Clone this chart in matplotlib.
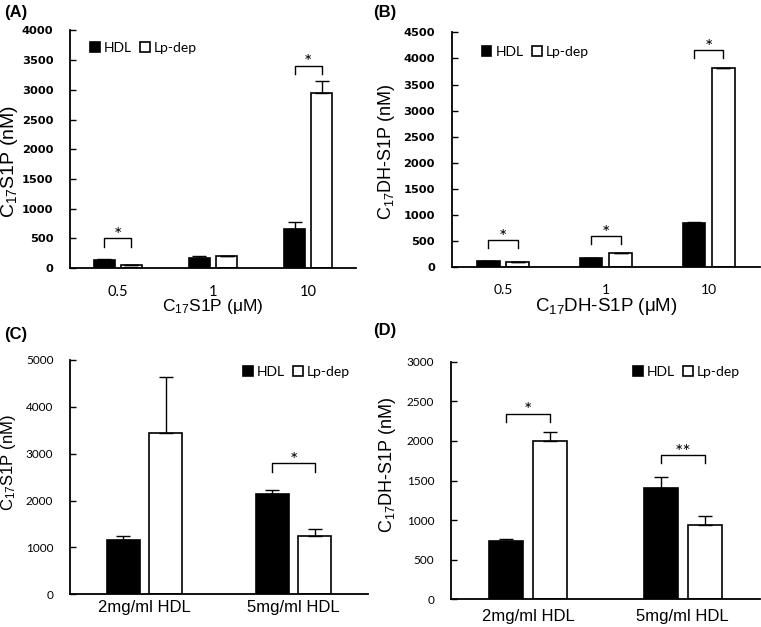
import matplotlib
matplotlib.use('Agg')
import matplotlib.pyplot as plt
from matplotlib.patches import Patch
import numpy as np

plt.rcParams['mathtext.default'] = 'regular'

# (A) C17S1P added, nM recovered
dose_labels = ['0.5', '1', '10']
a_hdl = [130, 175, 660]
a_hdl_err = [17, 35, 115]
a_lp = [50, 199, 2945]
a_lp_err = [3, 5, 205]
a_sig = [(0, '*', 500), (2, '*', 3410)]

# (B) C17DH-S1P added
b_hdl = [120, 177, 855]
b_hdl_err = [8, 10, 15]
b_lp = [95, 266, 3812]
b_lp_err = [3, 3, 10]
b_sig = [(0, '*', 525), (1, '*', 600), (2, '*', 4160)]

# (C) / (D) HDL concentration
hdl_labels = ['2mg/ml HDL', '5mg/ml HDL']
c_hdl = [1166, 2148]
c_hdl_err = [86, 78]
c_lp = [3449, 1252]
c_lp_err = [1195, 149]
c_sig = [(1, '*', 2795)]

d_hdl = [736, 1406]
d_hdl_err = [30, 143]
d_lp = [2003, 939]
d_lp_err = [114, 109]
d_sig = [(0, '*', 2344), (1, '**', 1822)]

W, H = 761, 627
fig = plt.figure(figsize=(W / 100, H / 100), dpi=100)


def px_rect(left, top, right, bottom):
    return [left / W, 1 - bottom / H, (right - left) / W, (bottom - top) / H]


def panel(rect, tag, tag_xy, cats, hdl, hdl_err, lp, lp_err, sig, ymax, ystep,
          ylab, ylab_size, ylab_pos, xlab, xlab_size, xlab_y, leg_pos,
          ytick_font, ytick_size, ytick_weight, xtick_font, xtick_size, xtick_pad):
    ax = fig.add_axes(rect)
    x = np.arange(len(cats))
    w, off = 0.22, 0.143
    ax.bar(x - off, hdl, w, color='black', edgecolor='black', linewidth=1.2)
    ax.bar(x + off, lp, w, color='white', edgecolor='black', linewidth=1.2)
    ax.errorbar(x - off, hdl, yerr=[np.zeros(len(hdl)), hdl_err], fmt='none',
                ecolor='black', elinewidth=1, capsize=5, capthick=1)
    ax.errorbar(x + off, lp, yerr=[np.zeros(len(lp)), lp_err], fmt='none',
                ecolor='black', elinewidth=1, capsize=5, capthick=1)

    # significance brackets
    leg = 0.035 * ymax
    for i, s, yb in sig:
        ax.plot([i - off, i - off, i + off, i + off], [yb - leg, yb, yb, yb - leg],
                color='black', lw=1)
        ax.annotate(s, (i, yb), xytext=(0, -2), textcoords='offset points',
                    ha='center', va='baseline', family='Lato', fontsize=14)

    ax.set_xlim(-0.5, len(cats) - 0.5)
    ax.set_ylim(0, ymax)
    ax.set_yticks(np.arange(0, ymax + 1, ystep))
    ax.set_xticks(x)
    ax.set_xticklabels(cats, family=xtick_font, fontsize=xtick_size)
    for t in ax.get_yticklabels():
        t.set_family(ytick_font)
        t.set_fontsize(ytick_size)
        t.set_fontweight(ytick_weight)
    ax.tick_params(axis='y', direction='in', length=4, width=1, pad=12)
    ax.tick_params(axis='x', length=0, pad=xtick_pad)
    for sp in ['top', 'right']:
        ax.spines[sp].set_visible(False)
    for sp in ['left', 'bottom']:
        ax.spines[sp].set_linewidth(1.3)

    ax.set_ylabel(ylab, family='Liberation Sans', fontsize=ylab_size)
    ax.yaxis.set_label_coords(*ylab_pos)
    ax.yaxis.label.set_va('center')
    ax.set_xlabel(xlab, family='Liberation Sans', fontsize=xlab_size)
    ax.xaxis.set_label_coords(0.5, xlab_y)
    ax.xaxis.label.set_va('center')

    handles = [Patch(facecolor='black', edgecolor='black', linewidth=1.2),
               Patch(facecolor='white', edgecolor='black', linewidth=1.2)]
    ax.legend(handles, ['HDL', 'Lp-dep'], loc='center left', bbox_to_anchor=leg_pos,
              ncol=2, frameon=False, borderpad=0, borderaxespad=0,
              handlelength=0.7, handleheight=0.7, handletextpad=0.3,
              columnspacing=0.6, prop={'family': 'Lato', 'size': 10})

    fig.text(tag_xy[0] / W, 1 - tag_xy[1] / H, tag, family='Liberation Sans',
             fontweight='bold', fontsize=12, ha='left', va='center')
    return ax


panel(px_rect(70, 30.5, 356, 268), '(A)', (4, 13), dose_labels,
      a_hdl, a_hdl_err, a_lp, a_lp_err, a_sig, 4000, 500,
      'C$_{17}$S1P (nM)', 14, (-0.213, 0.45), 'C$_{17}$S1P (μM)', 12.5, -0.163,
      (0.07, 0.926), 'DejaVu Sans', 8.2, 'bold', 'Lato', 10.5, 12)

panel(px_rect(451.7, 32.3, 760, 267.3), '(B)', (373, 13), dose_labels,
      b_hdl, b_hdl_err, b_lp, b_lp_err, b_sig, 4500, 500,
      'C$_{17}$DH-S1P (nM)', 13, (-0.213, 0.49), 'C$_{17}$DH-S1P (μM)', 13.5, -0.168,
      (0.097, 0.916), 'DejaVu Sans', 8.2, 'bold', 'Lato', 10, 12)

panel(px_rect(70, 360, 368, 594.3), '(C)', (4, 335), hdl_labels,
      c_hdl, c_hdl_err, c_lp, c_lp_err, c_sig, 5000, 1000,
      'C$_{17}$S1P (nM)', 12, (-0.208, 0.56), '', 12, -0.2,
      (0.58, 0.949), 'Lato', 8.5, 'normal', 'Liberation Sans', 12, 4)

panel(px_rect(451, 361.7, 760, 599.3), '(D)', (373, 331), hdl_labels,
      d_hdl, d_hdl_err, d_lp, d_lp_err, d_sig, 3000, 500,
      'C$_{17}$DH-S1P (nM)', 13, (-0.204, 0.565), '', 12, -0.2,
      (0.589, 0.957), 'Lato', 8.5, 'normal', 'Liberation Sans', 12, 7)

fig.savefig('out.png', dpi=100)
